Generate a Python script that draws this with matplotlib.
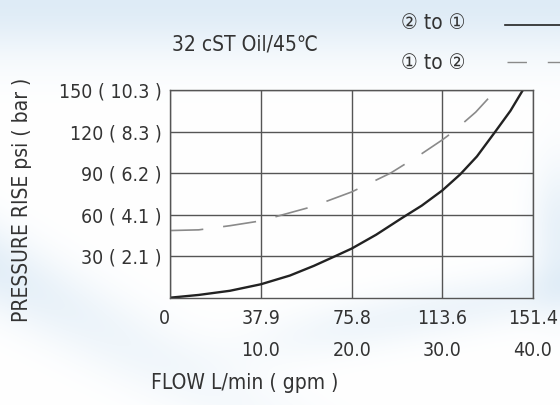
import numpy as np
import matplotlib
matplotlib.use("Agg")
import matplotlib.pyplot as plt
from matplotlib.lines import Line2D

# flow in L/min, pressure rise in psi
flow_21 = [0, 12, 25, 37.9, 50, 60, 68.9, 75.8, 86, 96.7, 105, 113.6, 121, 128, 135.7, 142, 147.2]
psi_21 = [0, 2, 5, 9.7, 16, 23, 30, 35.5, 45.5, 57.5, 66.5, 77.5, 89, 102, 120, 135, 150]

flow_12 = [0, 12, 25, 37.9, 47.2, 59, 75.8, 92, 105, 113.6, 118.2, 127.5, 136]
psi_12 = [48.5, 49, 52, 55.5, 60, 65.6, 76.4, 90, 104, 114, 120, 134, 150]

x_ticks = [0, 37.9, 75.8, 113.6, 151.4]
x_lpm = ["0", "37.9", "75.8", "113.6", "151.4"]
x_gpm = ["", "10.0", "20.0", "30.0", "40.0"]
y_ticks = [30, 60, 90, 120, 150]
y_labels = ["30 ( 2.1 )", "60 ( 4.1 )", "90 ( 6.2 )", "120 ( 8.3 )", "150 ( 10.3 )"]

plt.rcParams['font.family'] = ["DejaVu Sans", "Noto Sans CJK SC"]
plt.rcParams['font.stretch'] = 'condensed'
txt = "#333333"

fig = plt.figure(figsize=(5.6, 4.05), dpi=100)

# soft blue swooshes behind everything
bg = fig.add_axes([0, 0, 1, 1], zorder=-10)
yy, xx = np.mgrid[0:405, 0:560].astype(float)
w = np.exp(-(yy / 55.0) ** 2) * 0.85
w += np.exp(-((yy - 270 - 0.55 * xx) / 45.0) ** 2) * 0.7 * np.exp(-xx / 220.0)
ramp = 1 / (1 + np.exp(-(xx - 280) / 40.0))
w += np.exp(-((yy - 335 + 0.18 * (xx - 300)) / 28.0) ** 2) * 0.45 * ramp
w += np.exp(-((xx - 560) / 28.0) ** 2) * np.exp(-((yy - 230) / 70.0) ** 2) * 0.6
w = np.clip(w, 0, 1)[..., None]
blue = np.array([0.85, 0.91, 0.96])
img = (1 - w) * np.ones(3) + w * blue
bg.imshow(img, aspect='auto', extent=[0, 1, 0, 1])
bg.axis('off')

ax = fig.add_axes([170 / 560, 1 - 297.7 / 405, 363 / 560, 207.7 / 405])
ax.set_facecolor('none')
ax.plot(flow_21, psi_21, color="#222222", lw=1.7, solid_capstyle='round')
ax.plot(flow_12, psi_12, color="#8a8a8a", lw=1.2, dashes=(20, 12))

ax.set_xlim(0, 151.4)
ax.set_ylim(0, 150)
ax.set_xticks(x_ticks)
ax.set_xticklabels([a + "\n" + b for a, b in zip(x_lpm, x_gpm)],
                   fontsize=14, color=txt, linespacing=1.9)
ax.get_xticklabels()[0].set_ha('right')
ax.set_yticks(y_ticks)
ax.set_yticklabels(y_labels, fontsize=14, color=txt)
ax.tick_params(length=0, pad=6)
ax.tick_params(axis='x', pad=8)
ax.grid(True, color="#555555", lw=1.0)
for s in ax.spines.values():
    s.set_color("#555555")
    s.set_linewidth(1.0)

fig.text(245 / 560, 1 - 383 / 405, "FLOW L/min ( gpm )", ha='center', va='center',
         fontsize=15, color=txt)
fig.text(22 / 560, 1 - 200 / 405, "PRESSURE RISE psi ( bar )", rotation=90,
         ha='center', va='center', fontsize=15, color=txt)
fig.text(245 / 560, 1 - 44 / 405, "32 cST Oil/45℃", ha='center', va='center',
         fontsize=15, color=txt)

fig.text(433 / 560, 1 - 23 / 405, "② to ①", ha='center', va='center', fontsize=15, color=txt)
fig.text(433 / 560, 1 - 63 / 405, "① to ②", ha='center', va='center', fontsize=15, color=txt)
fig.add_artist(Line2D([505 / 560, 1], [1 - 25 / 405] * 2, color="#222222", lw=1.2))
fig.add_artist(Line2D([507 / 560, 1], [1 - 62 / 405] * 2, color="#8a8a8a", lw=1.0,
                      dashes=(14, 15)))

fig.savefig("out.png", dpi=100)
